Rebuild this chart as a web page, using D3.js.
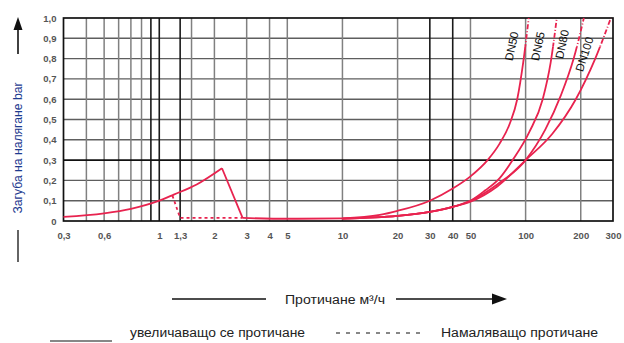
<!DOCTYPE html>
<html><head><meta charset="utf-8">
<script src="https://cdn.jsdelivr.net/npm/d3@7"></script>
<style>
html,body{margin:0;padding:0;background:#fff;}
svg{display:block;font-family:"Liberation Sans",Arial,sans-serif;}
</style></head>
<body><svg id="c" width="624" height="343"></svg>
<script>
// ---- data ----
const xTickValues = [0.3, 0.5, 1, 1.3, 2, 3, 4, 5, 10, 20, 30, 40, 50, 100, 200, 300];
const xTickLabels = ["0,3", "0,6", "1", "1,3", "2", "3", "4", "5", "10", "20", "30", "40", "50", "100", "200", "300"];
const xGridLight = [0.4, 0.5, 0.6, 0.7, 0.8, 1.5, 2, 3, 4, 5, 10, 20, 50, 100, 200];
const xGridBold = [0.9, 1, 1.3, 30, 40];
const yTickValues = [0, 0.1, 0.2, 0.3, 0.4, 0.5, 0.6, 0.7, 0.8, 0.9, 1.0];
const yTickLabels = ["0", "0,1", "0,2", "0,3", "0,4", "0,5", "0,6", "0,7", "0,8", "0,9", "1,0"];
const yGridBold = [0.3];

const riseCurve = [[0.3, 0.02], [0.5, 0.038], [0.7, 0.06], [1, 0.10], [1.2, 0.13], [1.6, 0.18], [2.2, 0.26]];
const dropLine = [[2.2, 0.26], [2.85, 0.015]];
const decreasingLine = [[1.18, 0.125], [1.3, 0.015], [2.85, 0.015]];
const baseLine = [[2.85, 0.015], [5, 0.011], [10, 0.013]];

const dnNames = ["DN50", "DN65", "DN80", "DN100"];
const dn50 = [[10, 0.013], [16, 0.03], [20, 0.05], [30, 0.10], [40, 0.16], [50, 0.22], [62, 0.30], [72, 0.38], [82, 0.48], [90, 0.60], [97, 0.78], [104, 1.0]];
const dn65 = [[10, 0.012], [20, 0.025], [30, 0.045], [40, 0.07], [50, 0.10], [60, 0.15], [72, 0.21], [85, 0.30], [105, 0.44], [124, 0.60], [137, 0.78], [148, 1.0]];
const dn80 = [[10, 0.012], [20, 0.025], [30, 0.045], [40, 0.07], [50, 0.10], [70, 0.18], [100, 0.30], [128, 0.45], [156, 0.62], [183, 0.80], [208, 1.0]];
const dn100 = [[10, 0.012], [20, 0.025], [30, 0.045], [40, 0.07], [50, 0.095], [70, 0.17], [100, 0.30], [140, 0.43], [188, 0.60], [240, 0.80], [292, 1.0]];
const dnLabelPos = [[85, 0.86], [118, 0.86], [160, 0.87], [212, 0.82]];
const dashedAbove = 0.86;

const yTitle = "Загуба на налягане bar";
const xTitle = "Протичане м³/ч";
const legendSolid = "увеличаващо се протичане";
const legendDashed = "Намаляващо протичане";

// ---- drawing ----
const svg = d3.select("#c");
const red = "#e8234f";
const x = d3.scaleLog().domain([0.3, 300]).range([63.5, 613]);
const y = d3.scaleLinear().domain([0, 1]).range([221, 18]);
const [x0, x1] = x.range(), [y0, y1] = y.range();

const grid = svg.append("g");
grid.selectAll("line.hl").data(yTickValues.filter(v => v > 0 && v < 1 && !yGridBold.includes(v))).join("line")
  .attr("x1", x0).attr("x2", x1).attr("y1", d => y(d)).attr("y2", d => y(d))
  .attr("stroke", "#5e5e5e").attr("stroke-width", 1.4);
grid.selectAll("line.vl").data(xGridLight).join("line")
  .attr("y1", y0).attr("y2", y1).attr("x1", d => x(d)).attr("x2", d => x(d))
  .attr("stroke", "#808080").attr("stroke-width", 1.5);
grid.selectAll("line.vb").data(xGridBold).join("line")
  .attr("y1", y0).attr("y2", y1).attr("x1", d => x(d)).attr("x2", d => x(d))
  .attr("stroke", "#1a1a1a").attr("stroke-width", 1.6);
grid.selectAll("line.hb").data(yGridBold).join("line")
  .attr("x1", x0).attr("x2", x1).attr("y1", d => y(d)).attr("y2", d => y(d))
  .attr("stroke", "#111").attr("stroke-width", 1.6);
svg.append("rect").attr("x", x0).attr("y", y1).attr("width", x1 - x0).attr("height", y0 - y1)
  .attr("fill", "none").attr("stroke", "#111").attr("stroke-width", 1.7);

// axes labels
const xAxis = d3.axisBottom(x).tickValues(xTickValues).tickFormat((d, i) => xTickLabels[i]).tickSize(0).tickPadding(11);
const gx = svg.append("g").attr("transform", `translate(0,${y0})`).call(xAxis);
gx.select(".domain").remove();
gx.selectAll("text").attr("font-size", 9.5).attr("font-weight", "bold").attr("fill", "#555").attr("font-family", "Liberation Sans, Arial, sans-serif");

const yAxis = d3.axisLeft(y).tickValues(yTickValues).tickFormat((d, i) => yTickLabels[i]).tickSize(0).tickPadding(7);
const gy = svg.append("g").attr("transform", `translate(${x0},0)`).call(yAxis);
gy.select(".domain").remove();
gy.selectAll("text").attr("font-size", 9.5).attr("font-weight", "bold").attr("fill", "#555").attr("font-family", "Liberation Sans, Arial, sans-serif");

// curves
const defs = svg.append("defs");
defs.append("clipPath").attr("id", "lowClip").append("rect")
  .attr("x", 0).attr("y", y(dashedAbove)).attr("width", 624).attr("height", 343);
defs.append("clipPath").attr("id", "highClip").append("rect")
  .attr("x", 0).attr("y", 0).attr("width", 624).attr("height", y(dashedAbove));

const lineC = d3.line().x(d => x(d[0])).y(d => y(d[1])).curve(d3.curveMonotoneX);
const lineL = d3.line().x(d => x(d[0])).y(d => y(d[1]));
const curves = svg.append("g").attr("fill", "none").attr("stroke", red).attr("stroke-width", 1.8);
curves.append("path").attr("d", lineC(riseCurve));
curves.append("path").attr("d", lineL(dropLine));
curves.append("path").attr("d", lineL(decreasingLine)).attr("stroke-dasharray", "3,3");
curves.append("path").attr("d", lineC(baseLine));
[dn50, dn65, dn80, dn100].forEach(s => {
  curves.append("path").attr("d", lineC(s)).attr("clip-path", "url(#lowClip)");
  curves.append("path").attr("d", lineC(s)).attr("clip-path", "url(#highClip)").attr("stroke-dasharray", "5,2,1,2");
});

// DN labels
const rot = [-78, -78, -78, -72];
svg.append("g").selectAll("text").data(dnNames).join("text")
  .attr("transform", (d, i) => `translate(${x(dnLabelPos[i][0])},${y(dnLabelPos[i][1])}) rotate(${rot[i]})`)
  .attr("text-anchor", "middle").attr("dominant-baseline", "middle")
  .attr("font-size", 11.5).attr("fill", "#111").text(d => d);

// y title and arrow
svg.append("text").attr("transform", "translate(22,148) rotate(-90)")
  .attr("text-anchor", "middle").attr("font-size", 12).attr("fill", "#1d3a8f")
  .attr("textLength", 131).attr("lengthAdjust", "spacingAndGlyphs").text(yTitle);
svg.append("line").attr("x1", 18).attr("x2", 18).attr("y1", 54).attr("y2", 28).attr("stroke", "#111").attr("stroke-width", 1.6);
svg.append("path").attr("d", "M18,17 L13.5,30 L22.5,30 Z").attr("fill", "#111");
svg.append("line").attr("x1", 18).attr("x2", 18).attr("y1", 230).attr("y2", 262).attr("stroke", "#111").attr("stroke-width", 1.3);

// x title with arrow
svg.append("line").attr("x1", 172).attr("x2", 266).attr("y1", 299).attr("y2", 299).attr("stroke", "#111").attr("stroke-width", 1.3);
svg.append("text").attr("x", 285).attr("y", 303.5).attr("font-size", 12).attr("fill", "#222")
  .attr("textLength", 100).attr("lengthAdjust", "spacingAndGlyphs").text(xTitle);
svg.append("line").attr("x1", 396).attr("x2", 494).attr("y1", 299).attr("y2", 299).attr("stroke", "#111").attr("stroke-width", 1.3);
svg.append("path").attr("d", "M507,299 L492,293.5 L492,304.5 Z").attr("fill", "#111");

// legend
svg.append("line").attr("x1", 50).attr("x2", 112).attr("y1", 341).attr("y2", 341).attr("stroke", "#111").attr("stroke-width", 1.2);
svg.append("text").attr("x", 130).attr("y", 337).attr("font-size", 12).attr("fill", "#222")
  .attr("textLength", 175).attr("lengthAdjust", "spacingAndGlyphs").text(legendSolid);
svg.append("line").attr("x1", 336).attr("x2", 426).attr("y1", 333).attr("y2", 333).attr("stroke", "#111").attr("stroke-width", 1.2).attr("stroke-dasharray", "4,6");
svg.append("text").attr("x", 441).attr("y", 337).attr("font-size", 12).attr("fill", "#222")
  .attr("textLength", 157).attr("lengthAdjust", "spacingAndGlyphs").text(legendDashed);
</script></body></html>
